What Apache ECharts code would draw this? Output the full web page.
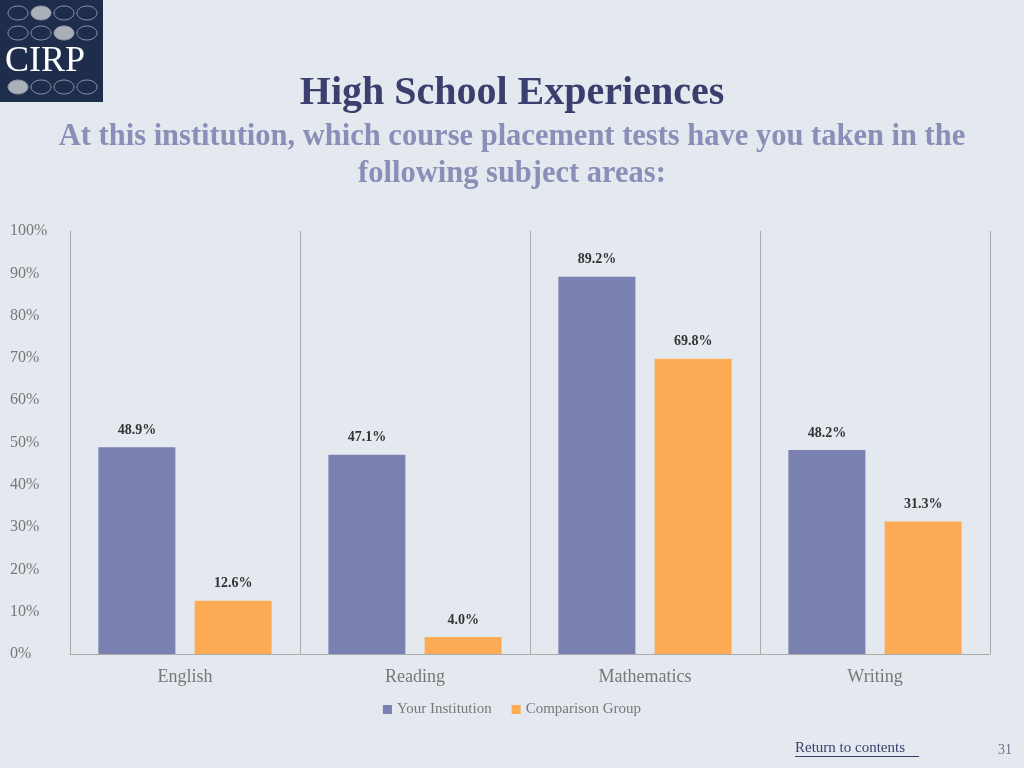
<!DOCTYPE html>
<html><head><meta charset="utf-8">
<script src="https://cdn.jsdelivr.net/npm/echarts@6/dist/echarts.min.js"></script>
<style>html,body{margin:0;background:#e4e8ef}#c{width:1024px;height:768px}</style>
</head><body><div id="c"></div>
<script>
var categories = ['English', 'Reading', 'Mathematics', 'Writing'];
var yourInstitution = [48.9, 47.1, 89.2, 48.2];
var comparisonGroup = [12.6, 4.0, 69.8, 31.3];

var chart = echarts.init(document.getElementById('c'));
var serif = '"Liberation Serif", "DejaVu Serif", serif';

// logo ovals
var logo = [{type: 'rect', left: 0, top: 0, shape: {width: 103, height: 102}, style: {fill: '#1f2d4c'}}];
var filled = {'0-1': 1, '1-2': 1, '2-0': 1};
[13, 33, 87].forEach(function(y, r) {
    for (var i = 0; i < 4; i++) {
        var on = filled[r + '-' + i];
        logo.push({type: 'ellipse', shape: {cx: 18 + i * 23, cy: y, rx: 10, ry: 7},
            style: {fill: on ? '#aab0b8' : 'none', stroke: '#8b93a3', lineWidth: 1}});
    }
});
logo.push({type: 'text', left: 5, top: 44, style: {text: 'CIRP', fill: '#fff', font: '36px ' + serif}});
logo.push({type: 'text', left: 795, top: 741, style: {text: 'Return to contents', fill: '#3a3f6e', font: '15px ' + serif}});
logo.push({type: 'rect', left: 795, top: 756, shape: {width: 124, height: 1}, style: {fill: '#3a3f6e'}});
logo.push({type: 'text', left: 998, top: 743, style: {text: '31', fill: '#6b7088', font: '14px ' + serif}});

var lbl = {show: true, position: 'top', formatter: function(p) { return p.value.toFixed(1) + '%'; },
    color: '#333', fontWeight: 'bold', fontSize: 14, fontFamily: serif, distance: 10};

chart.setOption({
    backgroundColor: '#e4e8ef',
    title: {
        text: 'High School Experiences',
        subtext: 'At this institution, which course placement tests have you taken in the\nfollowing subject areas:',
        left: 'center', top: 69,
        textStyle: {color: '#3a3f6e', fontSize: 40, fontWeight: 'bold', fontFamily: serif},
        subtextStyle: {color: '#8a8fb8', fontSize: 30.5, fontWeight: 'bold', fontFamily: serif, lineHeight: 37, align: 'center'},
        itemGap: 5
    },
    graphic: logo,
    legend: {
        bottom: 46, left: 'center', itemWidth: 9, itemHeight: 9, itemGap: 20, icon: 'rect',
        data: ['Your Institution', 'Comparison Group'],
        textStyle: {color: '#777', fontSize: 15, fontFamily: serif}
    },
    grid: {left: 70, right: 34, top: 231, bottom: 114, containLabel: false, outerBoundsMode: 'none'},
    xAxis: {
        type: 'category', data: categories,
        axisLine: {lineStyle: {color: '#aaa'}}, axisTick: {show: false},
        splitLine: {show: true, lineStyle: {color: '#aaa'}},
        axisLabel: {color: '#777', fontSize: 18, fontFamily: serif, margin: 14}
    },
    yAxis: {
        type: 'value', min: 0, max: 100, interval: 10,
        axisLine: {show: true, lineStyle: {color: '#aaa'}}, splitLine: {show: false},
        axisLabel: {formatter: '{value}%', color: '#777', fontSize: 16, fontFamily: serif, margin: 60, align: 'left'}
    },
    series: [
        {name: 'Your Institution', type: 'bar', data: yourInstitution, barWidth: 77, barGap: '25%',
            itemStyle: {color: '#7a80b0'}, label: lbl},
        {name: 'Comparison Group', type: 'bar', data: comparisonGroup, barWidth: 77,
            itemStyle: {color: '#fdab55'}, label: lbl}
    ]
});
</script></body></html>
